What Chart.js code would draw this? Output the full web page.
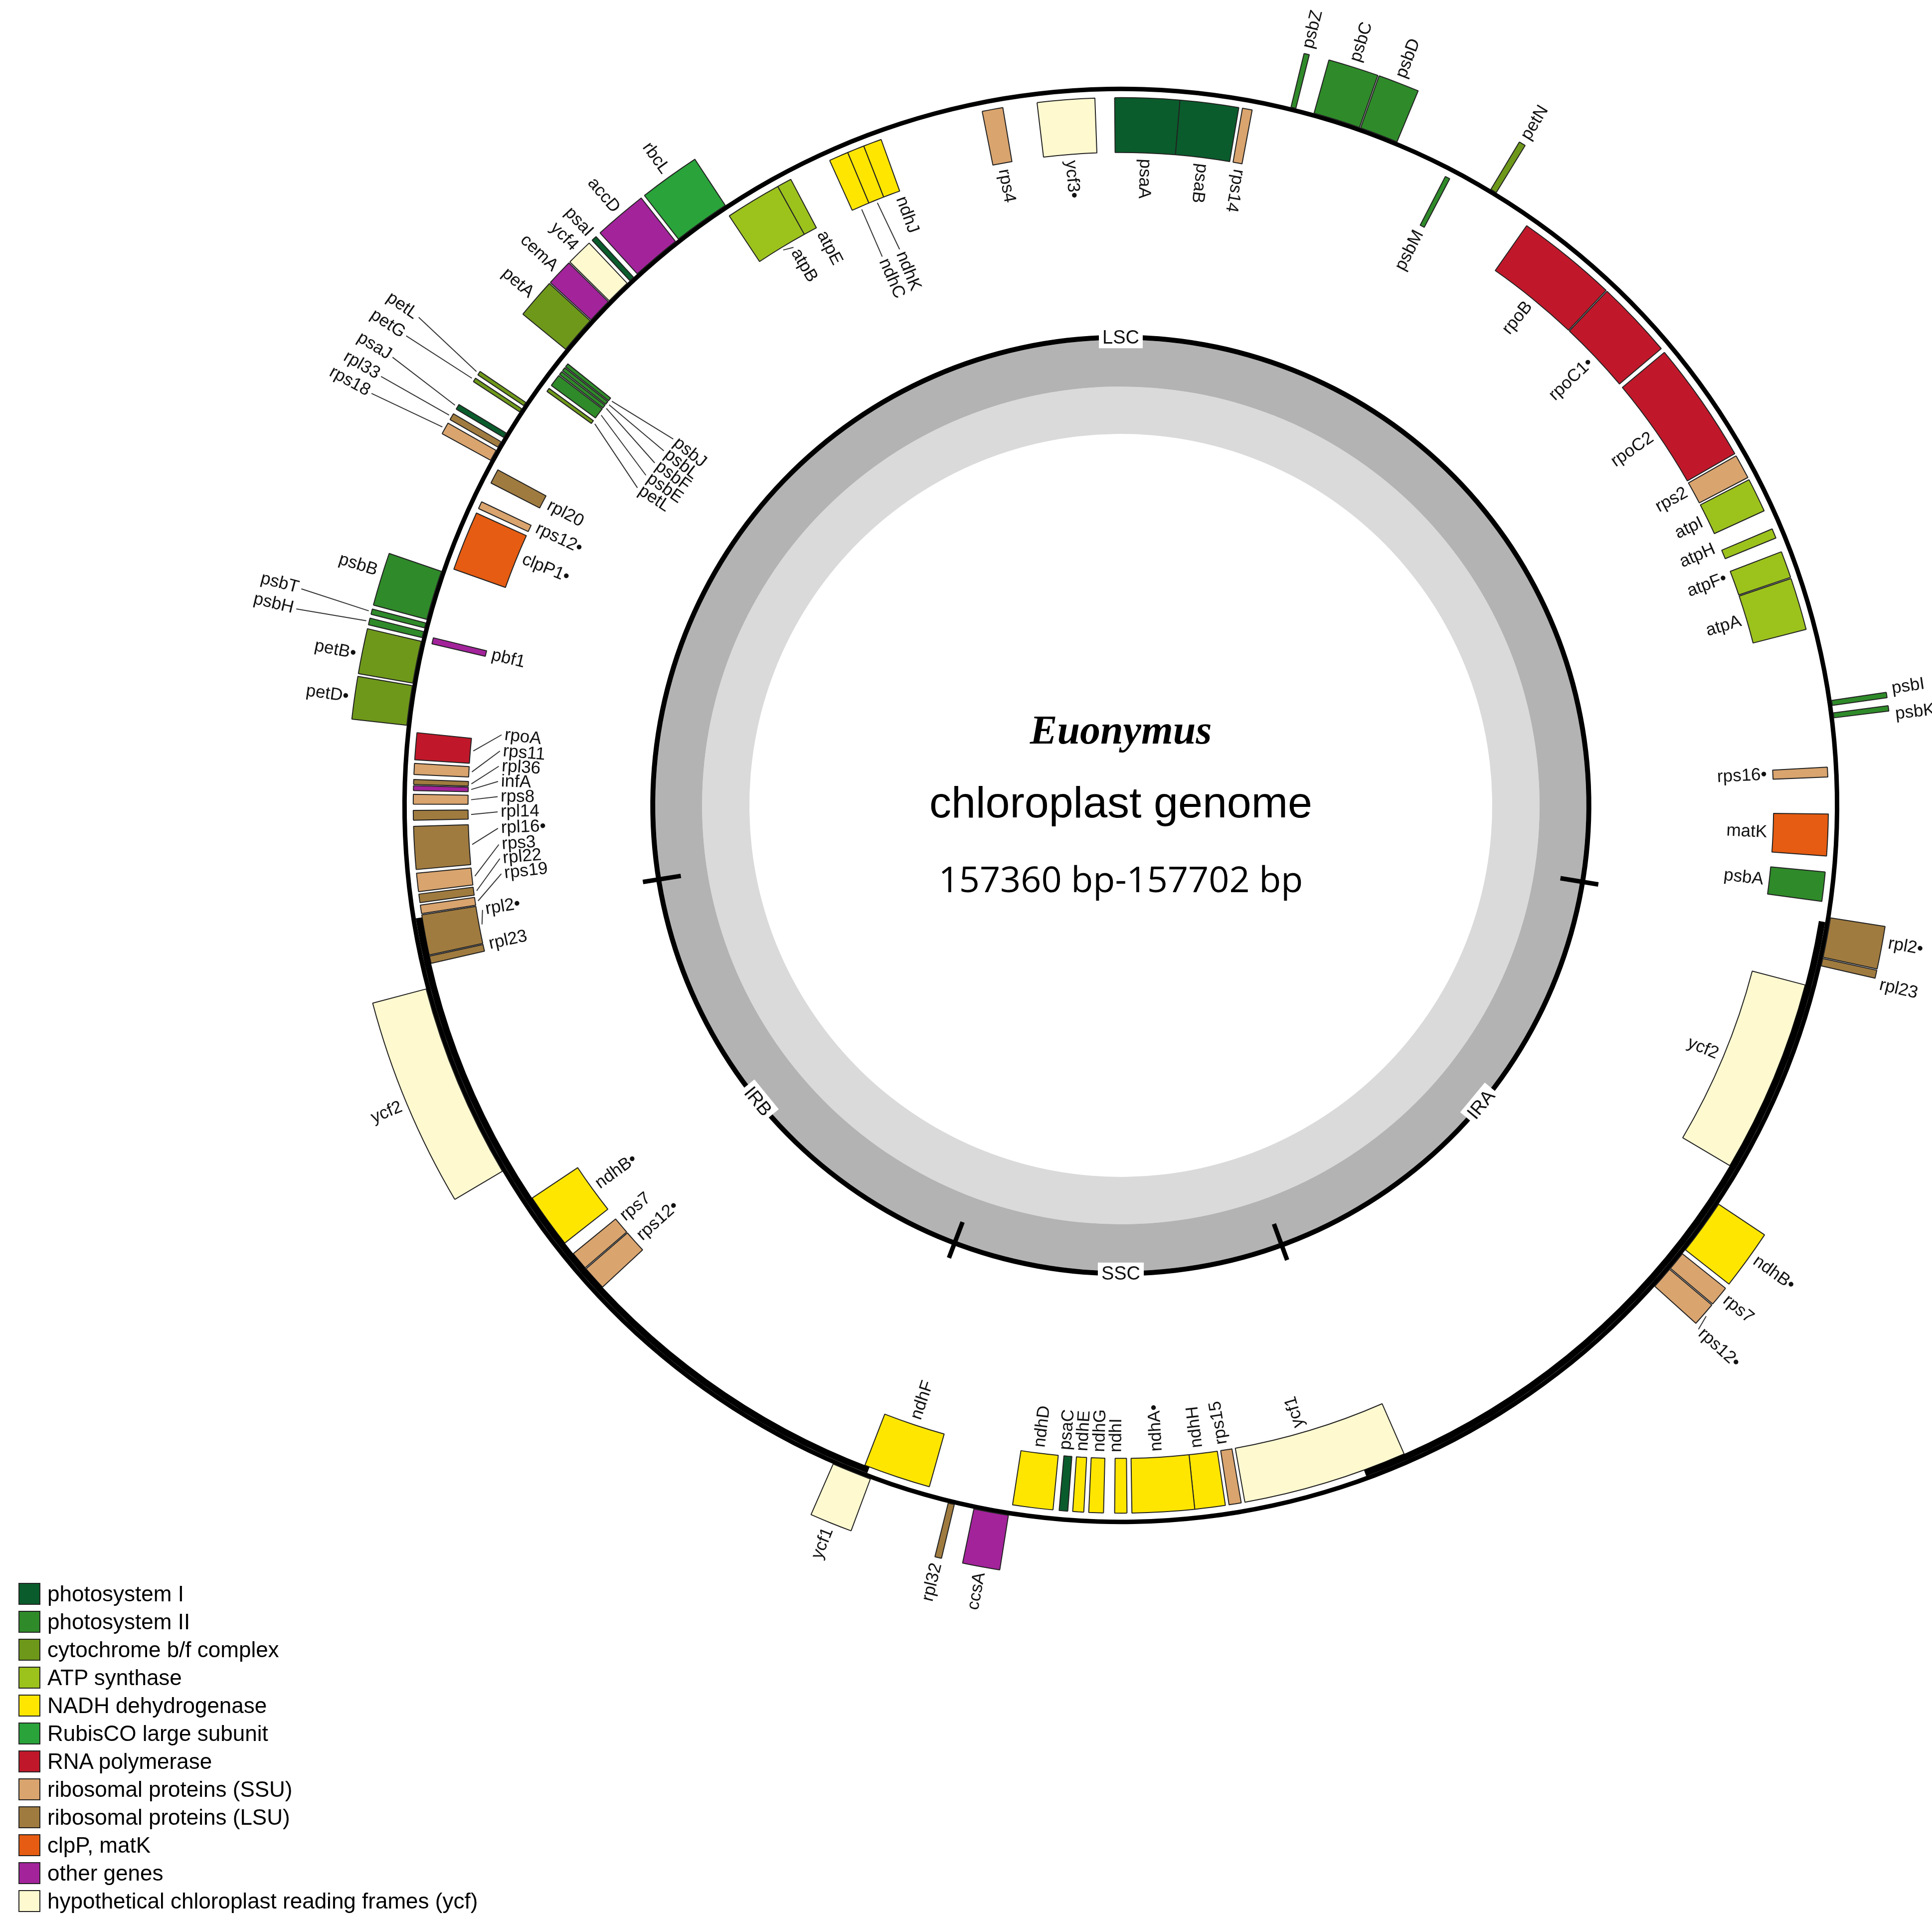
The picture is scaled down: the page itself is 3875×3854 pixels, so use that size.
<!DOCTYPE html>
<html>
<head>
<meta charset="utf-8">
<script src="https://cdn.jsdelivr.net/npm/chart.js@4.4.1/dist/chart.umd.min.js"></script>
<style>
  body { margin: 0; background: #fff; }
  #wrap { position: relative; width: 3875px; height: 3854px; }
  #legend { position: absolute; left: 37px; top: 3168px; font-family: "Liberation Sans", Arial, sans-serif; font-size: 44px; }
  .row { height: 56px; display: flex; align-items: center; }
  .sw { width: 44px; height: 44px; border: 2px solid #222; margin-right: 14px; box-sizing: border-box; }
</style>
</head>
<body>
<div id="wrap">
  <canvas id="mapa" width="3875" height="3854"></canvas>
  <div id="legend"></div>
</div>
<script>
// gene groups (legend)
var grupos = ['PSI', 'PSII', 'CYT', 'ATP', 'NDH', 'RBC', 'RPO', 'SSU', 'LSU', 'CLP', 'OTH', 'YCF'];
var gruposNomes = ['photosystem I', 'photosystem II', 'cytochrome b/f complex', 'ATP synthase',
  'NADH dehydrogenase', 'RubisCO large subunit', 'RNA polymerase', 'ribosomal proteins (SSU)',
  'ribosomal proteins (LSU)', 'clpP, matK', 'other genes', 'hypothetical chloroplast reading frames (ycf)'];
var gruposCores = ['#0a5c2c', '#2f8a2a', '#6e981a', '#9cc21c', '#ffe600', '#29a33a', '#c0182a',
  '#d9a46e', '#a07b3f', '#e55c12', '#a3239b', '#fff9d0'];

// quadrants: map position in degrees, clockwise from the top
var quadrantes = ['LSC', 'IRA', 'SSC', 'IRB'];
var juncoes = [99.4, 159.9, 200.8, 260.9];
var quadrantesPos = [0, 129.7, 180, 230.8];

// genes: [name, from(deg), to(deg), strand o=outside/i=inside, group, labelDeg, labelR]
var genesFora = [
  ['psbZ', 13.7, 14.1, 'o', 'PSII'], ['psbC', 15.6, 19.4, 'o', 'PSII'], ['psbD', 19.5, 22.6, 'o', 'PSII'],
  ['petN', 31.0, 31.5, 'o', 'CYT'], ['rbcL', -38.0, -33.4, 'o', 'RBC'], ['accD', -42.3, -38.3, 'o', 'OTH'],
  ['psaI', -43.1, -42.7, 'o', 'PSI'], ['ycf4', -45.4, -43.4, 'o', 'YCF'], ['cemA', -47.5, -45.5, 'o', 'OTH'],
  ['petA', -50.6, -47.6, 'o', 'CYT'],
  ['petL', -56.2, -55.9, 'o', 'CYT', -55.2, 1715], ['petG', -56.8, -56.5, 'o', 'CYT', -56.7, 1715],
  ['psaJ', -59.2, -58.8, 'o', 'PSI', -58.4, 1715], ['rpl33', -60.1, -59.6, 'o', 'LSU', -59.9, 1715],
  ['rps18', -61.3, -60.4, 'o', 'SSU', -61.2, 1715],
  ['psbB', -75.0, -71.0, 'o', 'PSII', -72.5], ['psbT', -75.7, -75.3, 'o', 'PSII', -75.2, 1700],
  ['psbH', -76.5, -76.0, 'o', 'PSII', -76.6, 1700], ['petB•', -80.2, -76.8, 'o', 'CYT', -78.8],
  ['petD•', -83.6, -80.4, 'o', 'CYT'], ['ycf2', -120.6, -104.8, 'o', 'YCF'], ['ycf1', -159.6, -156.4, 'o', 'YCF'],
  ['rpl32', -166.6, -166.1, 'o', 'LSU'], ['ccsA', -171.0, -168.2, 'o', 'OTH'],
  ['rps12•', 130.2, 132.0, 'o', 'SSU', 132.2], ['rps7', 128.6, 130.1, 'o', 'SSU', 129.2],
  ['ndhB•', 123.7, 128.2, 'o', 'NDH', 125.6], ['rpl23', 102.3, 102.9, 'o', 'LSU', 103.3],
  ['rpl2•', 99.0, 102.2, 'o', 'LSU', 100.2], ['psbK', 82.6, 83.0, 'o', 'PSII', 83.3], ['psbI', 81.6, 82.0, 'o', 'PSII', 81.4]
];
var genesDentro = [
  ['psaA', -0.5, 4.8, 'i', 'PSI'], ['psaB', 4.8, 9.6, 'i', 'PSI'], ['rps14', 9.9, 10.7, 'i', 'SSU', 10.5],
  ['ycf3•', -6.8, -2.1, 'i', 'YCF'], ['rps4', -11.3, -9.6, 'i', 'SSU'],
  ['ndhJ', -21.3, -19.8, 'i', 'NDH', -19.9], ['ndhK', -22.7, -21.3, 'i', 'NDH', -21.7, 1200],
  ['ndhC', -24.3, -22.7, 'i', 'NDH', -23.5, 1200],
  ['atpE', -29.0, -27.8, 'i', 'ATP', -27.6], ['atpB', -33.6, -29.0, 'i', 'ATP', -30.4],
  ['psbJ', -51.7, -51.4, 'i', 'PSII', -50.7, 1160], ['psbL', -52.1, -51.8, 'i', 'PSII', -52.2, 1160],
  ['psbF', -52.5, -52.2, 'i', 'PSII', -53.7, 1160], ['psbE', -53.6, -52.6, 'i', 'PSII', -55.2, 1160],
  ['petL', -54.2, -53.9, 'i', 'CYT', -56.7, 1160],
  ['rpl20', -62.9, -61.7, 'i', 'LSU'], ['rps12•', -65.2, -64.6, 'i', 'SSU', -64.6], ['clpP1•', -70.5, -65.6, 'i', 'CLP', -67.6],
  ['pbf1', -76.8, -76.3, 'i', 'OTH'],
  ['rpoA', -86.3, -84.1, 'i', 'RPO', -83.5, 1250], ['rps11', -87.5, -86.6, 'i', 'SSU', -85.0, 1250],
  ['rpl36', -88.3, -87.9, 'i', 'LSU', -86.4, 1250], ['infA', -88.8, -88.4, 'i', 'OTH', -87.8, 1250],
  ['rps8', -89.9, -89.1, 'i', 'SSU', -89.2, 1250], ['rpl14', -91.2, -90.4, 'i', 'LSU', -90.6, 1250],
  ['rpl16•', -95.2, -91.7, 'i', 'LSU', -92.1, 1250], ['rps3', -97.0, -95.5, 'i', 'SSU', -93.6, 1250],
  ['rpl22', -97.9, -97.2, 'i', 'LSU', -94.9, 1250], ['rps19', -98.8, -98.1, 'i', 'SSU', -96.3, 1250],
  ['rpl2•', -102.2, -98.9, 'i', 'LSU', -99.3], ['rpl23', -102.9, -102.3, 'i', 'LSU', -102.4],
  ['ndhB•', -128.2, -123.7, 'i', 'NDH'], ['rps7', -130.8, -129.3, 'i', 'SSU', -129.6], ['rps12•', -132.9, -130.9, 'i', 'SSU', -131.9],
  ['ndhF', -164.3, -158.8, 'i', 'NDH'], ['ndhD', -174.5, -171.2, 'i', 'NDH', -172.8],
  ['psaC', -175.7, -175.0, 'i', 'PSI', -175.1], ['ndhE', -177.0, -176.1, 'i', 'NDH', -176.6],
  ['ndhG', -178.6, -177.4, 'i', 'NDH', -178.1], ['ndhI', 179.5, 180.5, 'i', 'NDH', 180.4],
  ['ndhA•', 174.0, 179.1, 'i', 'NDH', 176.8], ['ndhH', 171.5, 174.0, 'i', 'NDH', 173.2],
  ['rps15', 170.2, 171.2, 'i', 'SSU', 171.0], ['ycf1', 156.4, 169.9, 'i', 'YCF', 164],
  ['ycf2', 104.7, 120.6, 'i', 'YCF'], ['psbA', 95.4, 97.8, 'i', 'PSII'], ['matK', 90.7, 94.1, 'i', 'CLP'],
  ['rps16•', 86.9, 87.7, 'i', 'SSU'], ['atpA', 71.3, 75.6, 'i', 'ATP'], ['atpF•', 69.0, 71.2, 'i', 'ATP', 69.4],
  ['atpH', 67.0, 67.8, 'i', 'ATP', 66.6], ['atpI', 62.6, 65.4, 'i', 'ATP'], ['rps2', 60.4, 62.4, 'i', 'SSU', 61.0],
  ['rpoC2', 50.2, 60.2, 'i', 'RPO'], ['rpoC1•', 43.4, 49.8, 'i', 'RPO'], ['rpoB', 35.0, 43.3, 'i', 'RPO'],
  ['psbM', 27.3, 27.7, 'i', 'PSII']
];

var ORIGEM = 89;      // chart rotation, chosen where no gene crosses
var TRANSP = 'rgba(0,0,0,0)';
var FONTE = '"Liberation Sans", Arial, sans-serif';

function corGrupo(g) { return gruposCores[grupos.indexOf(g)]; }
function rel(deg) { return ((deg - ORIGEM) % 360 + 720) % 360; }

// turns a list of arcs into doughnut segments (gap, arc, gap, arc ...)
function montarAnel(itens, cor) {
  var ord = itens.slice().sort(function(a, b) { return rel(a[1]) - rel(b[1]); });
  var dados = [], cores = [], bordas = [], ref = [];
  var cursor = 0;
  ord.forEach(function(g) {
    var ini = rel(g[1]);
    var larg = g[2] - g[1];
    if (ini > cursor) { dados.push(ini - cursor); cores.push(TRANSP); bordas.push(0); ref.push(null); }
    dados.push(larg); cores.push(cor(g)); bordas.push(2); ref.push(g);
    cursor = Math.max(cursor, ini) + larg;
  });
  if (cursor < 360) { dados.push(360 - cursor); cores.push(TRANSP); bordas.push(0); ref.push(null); }
  return { data: dados, backgroundColor: cores, borderWidth: bordas, borderColor: '#222', ref: ref };
}

var anelFora = montarAnel(genesFora, function(g) { return corGrupo(g[4]); });
var anelDentro = montarAnel(genesDentro, function(g) { return corGrupo(g[4]); });
var irs = [['IRA', juncoes[0], juncoes[1]], ['IRB', juncoes[2], juncoes[3]]];
var anelIR = montarAnel(irs, function() { return '#000'; });

function rotulo(ctx, cx, cy, deg, r, texto, fora) {
  var th = (deg - 90) * Math.PI / 180;
  var a = (deg % 360 + 360) % 360;
  var lerFora = a >= 12 && a < 160;
  ctx.save();
  ctx.translate(cx + r * Math.cos(th), cy + r * Math.sin(th));
  ctx.rotate(lerFora ? th : th + Math.PI);
  ctx.textAlign = (lerFora === fora) ? 'left' : 'right';
  ctx.textBaseline = 'middle';
  ctx.fillText(texto, 0, 0);
  ctx.restore();
}

function ponto(cx, cy, deg, r) {
  var th = (deg - 90) * Math.PI / 180;
  return [cx + r * Math.cos(th), cy + r * Math.sin(th)];
}

var pluginRotulos = {
  id: 'rotulos',
  afterDatasetsDraw: function(chart) {
    var ctx = chart.ctx;
    var arco0 = chart.getDatasetMeta(0).data[0];
    var cx = arco0.x, cy = arco0.y;
    ctx.fillStyle = '#111';
    ctx.strokeStyle = '#333';
    ctx.lineWidth = 2;
    ctx.font = '35px ' + FONTE;

    [[0, anelFora, true], [3, anelDentro, false]].forEach(function(par) {
      var meta = chart.getDatasetMeta(par[0]);
      par[1].ref.forEach(function(g, j) {
        if (!g) return;
        var arc = meta.data[j];
        var meio = (g[1] + g[2]) / 2;
        var ang = g[5] !== undefined ? g[5] : meio;
        var borda = par[2] ? arc.outerRadius + 6 : arc.innerRadius - 6;
        var r = g[6] !== undefined ? g[6] : (par[2] ? borda + 6 : borda - 6);
        if (g[6] !== undefined || Math.abs(ang - meio) > 0.9) {
          var p1 = ponto(cx, cy, meio, borda), p2 = ponto(cx, cy, ang, r);
          ctx.beginPath(); ctx.moveTo(p1[0], p1[1]); ctx.lineTo(p2[0], p2[1]); ctx.stroke();
          r += par[2] ? 6 : -6;
        }
        rotulo(ctx, cx, cy, ang, r, g[0], par[2]);
      });
    });

    // quadrant ticks and names
    var q = chart.getDatasetMeta(5).data[0];
    var rq = (q.innerRadius + q.outerRadius) / 2;
    ctx.strokeStyle = '#000';
    ctx.lineWidth = 9;
    juncoes.forEach(function(d) {
      var a = ponto(cx, cy, d, rq - 45), b = ponto(cx, cy, d, rq + 32);
      ctx.beginPath(); ctx.moveTo(a[0], a[1]); ctx.lineTo(b[0], b[1]); ctx.stroke();
    });
    ctx.font = '38px ' + FONTE;
    quadrantes.forEach(function(nome, i) {
      var d = quadrantesPos[i];
      var p = ponto(cx, cy, d, rq);
      ctx.save();
      ctx.translate(p[0], p[1]);
      var rot = d * Math.PI / 180;
      if (d > 90 && d < 270) rot -= Math.PI;
      ctx.rotate(rot);
      var w = ctx.measureText(nome).width + 14;
      ctx.fillStyle = '#fff';
      ctx.fillRect(-w / 2, -22, w, 44);
      ctx.fillStyle = '#111';
      ctx.textAlign = 'center'; ctx.textBaseline = 'middle';
      ctx.fillText(nome, 0, 2);
      ctx.restore();
    });

    // centre title
    ctx.fillStyle = '#000';
    ctx.textAlign = 'center';
    ctx.textBaseline = 'middle';
    ctx.font = 'italic bold 82px "Liberation Serif", serif';
    ctx.fillText('Euonymus', cx, 1470);
    ctx.font = '88px ' + FONTE;
    ctx.fillText('chloroplast genome', cx, 1615);
    ctx.font = '72px "Open Sans", sans-serif';
    ctx.fillText('157360 bp-157702 bp', cx, 1768);
  }
};

new Chart(document.getElementById('mapa'), {
  type: 'doughnut',
  data: {
    datasets: [
      { data: anelFora.data, backgroundColor: anelFora.backgroundColor, borderWidth: anelFora.borderWidth, borderColor: '#222', weight: 111 },
      { data: [360], backgroundColor: ['#000'], borderWidth: 0, weight: 9 },
      { data: anelIR.data, backgroundColor: anelIR.backgroundColor, borderWidth: 0, weight: 13 },
      { data: anelDentro.data, backgroundColor: anelDentro.backgroundColor, borderWidth: anelDentro.borderWidth, borderColor: '#222', weight: 110 },
      { data: [360], backgroundColor: [TRANSP], borderWidth: 0, weight: 366 },
      { data: [360], backgroundColor: ['#000'], borderWidth: 0, weight: 10 },
      { data: [360], backgroundColor: ['#b3b3b3'], borderWidth: 0, weight: 94 },
      { data: [360], backgroundColor: ['#dadada'], borderWidth: 0, weight: 95 }
    ]
  },
  options: {
    responsive: false,
    devicePixelRatio: 1,
    animation: false,
    rotation: ORIGEM,
    circumference: 360,
    cutout: '48%',
    layout: { padding: { left: 695, top: 62, right: 74, bottom: 686 } },
    events: [],
    plugins: { legend: { display: false }, tooltip: { enabled: false } }
  },
  plugins: [pluginRotulos]
});

var leg = document.getElementById('legend');
gruposNomes.forEach(function(nome, i) {
  var row = document.createElement('div');
  row.className = 'row';
  row.innerHTML = '<div class="sw" style="background:' + gruposCores[i] + '"></div><span>' + nome + '</span>';
  leg.appendChild(row);
});
</script>
</body>
</html>
